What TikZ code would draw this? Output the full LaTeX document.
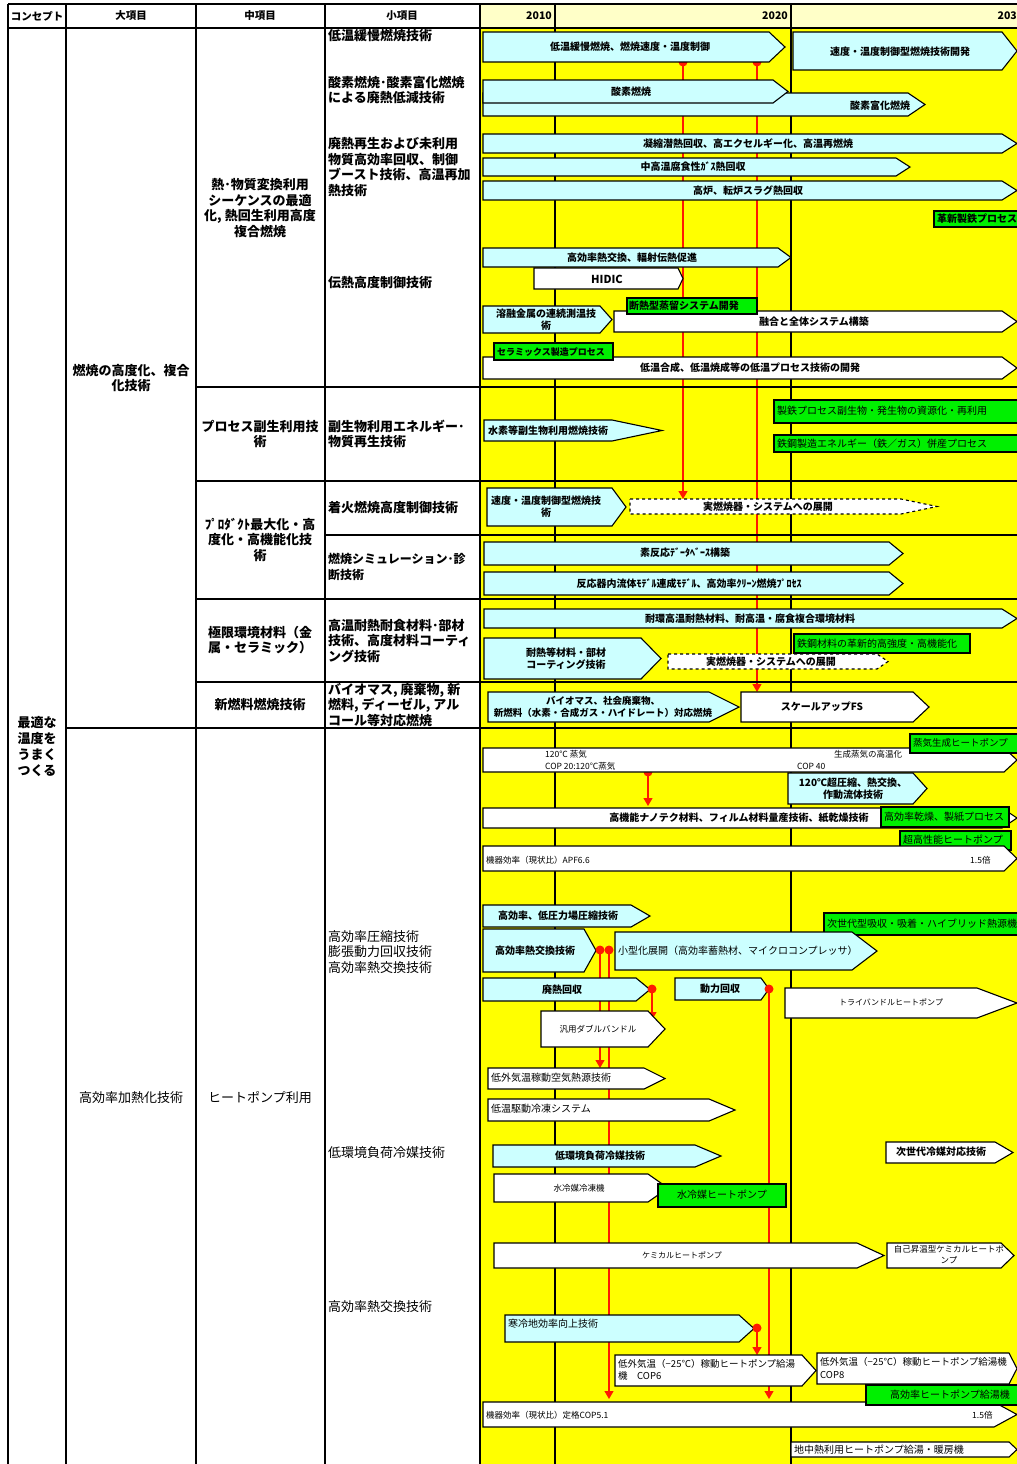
\documentclass[tikz,border=0pt]{standalone}
\usepackage{fontspec}
\setmainfont{Noto Sans CJK JP}
\usetikzlibrary{arrows.meta}

\definecolor{chartyel}{HTML}{FFFF00}
\definecolor{headyel}{HTML}{FFFFC8}
\definecolor{barcyan}{HTML}{CCFFFF}
\definecolor{bargreen}{HTML}{00F000}
\definecolor{linkred}{HTML}{FF1A00}

\tikzset{
  frame/.style={black, line width=1.3pt},
  yearline/.style={black, line width=1.1pt},
  cyanbar/.style={draw=black, line width=1.1pt, fill=barcyan},
  whitebar/.style={draw=black, line width=1.1pt, fill=white},
  dashbar/.style={whitebar, dashed},
  greenbox/.style={draw=black, line width=1.1pt, fill=bargreen},
  redlink/.style={draw=linkred, line width=1.2pt, -{Triangle[width=9pt,length=8pt]}},
  hdtxt/.style={font=\fontsize{10.5}{12}\selectfont\bfseries, inner sep=0pt},
  coltxt/.style={font=\fontsize{13}{15.5}\selectfont\bfseries, inner sep=0pt, align=center},
  colthin/.style={font=\fontsize{13}{15.5}\selectfont, inner sep=0pt, align=center},
  itemtxt/.style={font=\fontsize{13}{15.4}\selectfont\bfseries, inner sep=0pt, align=left, anchor=west},
  itemthin/.style={font=\fontsize{13}{15.2}\selectfont, inner sep=0pt, align=left, anchor=west},
  bartxt/.style={font=\fontsize{10}{12}\selectfont\bfseries, inner sep=0pt, align=center},
  barthin/.style={font=\fontsize{10}{12}\selectfont, inner sep=0pt, align=center},
  smalltxt/.style={font=\fontsize{8.5}{10.5}\selectfont, inner sep=0pt, align=center},
  greentxt/.style={font=\fontsize{10}{12}\selectfont, inner sep=0pt, anchor=west},
}

% arrow bar: style, x left, y top, x body end, x tip, y bottom
\newcommand{\pent}[6]{%
  \draw[#1] (#2,#3) -- (#4,#3) -- (#5,{(#3+#6)/2}) -- (#4,#6) -- (#2,#6) -- cycle;}

\begin{document}
\begin{tikzpicture}[x=1pt, y=-1pt]
  \useasboundingbox (0,0) rectangle (1017,1464);
  \clip (0,0) rectangle (1017,1464);
  \fill[white] (0,0) rectangle (1017,1464);

  % Chart background and year lines
  \fill[chartyel] (480,28) rectangle (1017,1464);
  \fill[headyel] (480,4) rectangle (1017,28);
  \foreach \yx in {555,791} \draw[yearline] (\yx,4) -- (\yx,1464);

  % Red links (behind the bars)
  \coordinate (dA) at (683,62);  \coordinate (eA) at (683,499);
  \coordinate (dB) at (757,62);  \coordinate (eB) at (757,692);
  \coordinate (dC) at (648,772); \coordinate (eC) at (648,806);
  \coordinate (dD) at (600,950); \coordinate (eD) at (600,1068);
  \coordinate (dE) at (609,950); \coordinate (eE) at (609,1399);
  \coordinate (dF) at (652,989); \coordinate (eF) at (652,1020);
  \coordinate (dG) at (769,989); \coordinate (eG) at (769,1399);
  \coordinate (dH) at (757,1328); \coordinate (eH) at (757,1355);
  \foreach \s in {A,B,C,D,E,F,G,H} \draw[redlink] (d\s) -- (e\s);
  \foreach \s in {A,B,C} \fill[linkred] (d\s) circle (4.5pt);

  % Bars: combustion
  \pent{cyanbar}{483}{32}{769}{785}{62}
  \pent{cyanbar}{793}{32}{1002}{1017}{70}
  \pent{cyanbar}{483}{93}{908}{925}{116}
  \pent{cyanbar}{483}{80}{773}{788}{103}
  \pent{cyanbar}{483}{134}{1002}{1017}{153}
  \pent{cyanbar}{483}{158}{896}{910}{176}
  \pent{cyanbar}{483}{181}{1002}{1017}{200}
  \draw[greenbox] (934,211) rectangle (1030,227);
  \pent{cyanbar}{483}{248}{778}{791}{267}
  \pent{whitebar}{534}{268}{678}{683}{289}
  \pent{cyanbar}{483}{306}{600}{612}{333}
  \pent{whitebar}{614}{311}{1002}{1017}{332}
  \draw[greenbox] (627,298) rectangle (757,314);
  \pent{whitebar}{483}{357}{1002}{1017}{379}
  \draw[greenbox] (494,343) rectangle (613,360);
  \draw[greenbox] (774,400) rectangle (1030,423);
  \draw[greenbox] (774,435) rectangle (1030,452);
  \pent{cyanbar}{484}{420}{612}{662}{441}
  \pent{cyanbar}{487}{488}{612}{626}{526}
  \pent{dashbar}{630}{499}{901}{937}{514}
  \pent{cyanbar}{484}{542}{889}{903}{565}
  \pent{cyanbar}{484}{572}{889}{903}{595}
  \pent{cyanbar}{484}{609}{1002}{1017}{628}
  \draw[greenbox] (794,634) rectangle (970,653);
  \pent{cyanbar}{484}{638}{641}{661}{679}
  \pent{dashbar}{668}{654}{877}{888}{669}
  \pent{cyanbar}{488}{692}{709}{739}{722}
  \pent{whitebar}{741}{692}{913}{929}{722}

  % Bars: heat pump
  \pent{whitebar}{483}{748}{1004}{1017}{772}
  \draw[greenbox] (910,734) rectangle (1030,753);
  \pent{cyanbar}{788}{773}{913}{927}{804}
  \pent{whitebar}{483}{808}{1002}{1017}{828}
  \draw[greenbox] (881,807) rectangle (1009,827);
  \draw[greenbox] (900,831) rectangle (1011,850);
  \pent{whitebar}{483}{846}{1004}{1017}{871}
  \pent{cyanbar}{483}{905}{631}{650}{927}
  \draw[greenbox] (824,913) rectangle (1030,935);
  \pent{cyanbar}{483}{929}{584}{596}{972}
  \pent{cyanbar}{615}{932}{852}{877}{970}
  \pent{cyanbar}{483}{978}{636}{650}{1001}
  \pent{cyanbar}{675}{978}{761}{769}{1000}
  \pent{whitebar}{785}{988}{977}{1017}{1018}
  \pent{whitebar}{541}{1011}{648}{665}{1047}
  \pent{whitebar}{488}{1068}{644}{665}{1089}
  \pent{whitebar}{488}{1099}{709}{735}{1121}
  \pent{cyanbar}{493}{1145}{695}{721}{1167}
  \pent{whitebar}{886}{1142}{995}{1013}{1163}
  \pent{whitebar}{494}{1174}{648}{668}{1202}
  \draw[greenbox] (658,1184) rectangle (786,1207);
  \pent{whitebar}{494}{1243}{857}{884}{1268}
  \pent{whitebar}{887}{1243}{1001}{1014}{1268}
  \pent{cyanbar}{505}{1315}{739}{754}{1342}
  \pent{whitebar}{615}{1355}{802}{816}{1386}
  \pent{whitebar}{817}{1353}{1009}{1017}{1384}
  \pent{whitebar}{483}{1402}{994}{1017}{1427}
  \draw[greenbox] (866,1385) rectangle (1030,1405);
  \pent{whitebar}{791}{1442}{1009}{1017}{1457}

  % Red dots on top
  \foreach \s in {D,E,F,G,H} \fill[linkred] (d\s) circle (4.5pt);

  % Table lines
  \draw[frame] (8,4) -- (1017,4);
  \draw[frame] (8,28) -- (1017,28);
  \foreach \xc in {8,66,196,325,480} \draw[frame] (\xc,4) -- (\xc,1464);
  \foreach \yr in {387,481,599,682} \draw[frame] (196,\yr) -- (1017,\yr);
  \draw[frame] (325,535) -- (1017,535);
  \draw[black, line width=2pt] (66,728) -- (1017,728);

  % Header
  \node[hdtxt] (hC) at (37,16) {コンセプト};
  \node[hdtxt] (hL) at (131,16) {大項目};
  \node[hdtxt] (hM) at (260,16) {中項目};
  \node[hdtxt] (hS) at (402,16) {小項目};
  \node[hdtxt, anchor=east] (y10) at (552,16) {2010};
  \node[hdtxt, anchor=east] (y20) at (788,16) {2020};
  \node[hdtxt, anchor=east] (y30) at (1017,16) {203};

  % Concept / large / middle items
  \node[coltxt, font=\fontsize{13}{16}\selectfont\bfseries] (cpt) at (37,747) {最適な\\温度を\\うまく\\つくる};
  \node[coltxt] (L1) at (131,378) {燃焼の高度化、複合\\化技術};
  \node[colthin] (L2) at (131,1098) {高効率加熱化技術};
  \node[coltxt] (M1) at (260,208) {熱･物質変換利用\\シーケンスの最適\\化, 熱回生利用高度\\複合燃焼};
  \node[coltxt] (M2) at (260,434) {プロセス副生利用技\\術};
  \node[coltxt] (M3) at (260,540) {ﾌﾟﾛﾀﾞｸﾄ最大化・高\\度化・高機能化技\\術};
  \node[coltxt] (M4) at (260,640) {極限環境材料（金\\属・セラミック）};
  \node[coltxt] (M5) at (260,705) {新燃料燃焼技術};
  \node[colthin] (M6) at (260,1098) {ヒートポンプ利用};

  % Small items
  \node[itemtxt] (S1) at (328,36) {低温緩慢燃焼技術};
  \node[itemtxt] (S2) at (328,90) {酸素燃焼･酸素富化燃焼\\による廃熱低減技術};
  \node[itemtxt] (S3) at (328,167) {廃熱再生および未利用\\物質高効率回収、制御\\ブースト技術、高温再加\\熱技術};
  \node[itemtxt] (S4) at (328,283) {伝熱高度制御技術};
  \node[itemtxt] (S5) at (328,434) {副生物利用エネルギー･\\物質再生技術};
  \node[itemtxt] (S6) at (328,508) {着火燃焼高度制御技術};
  \node[itemtxt, font=\fontsize{12}{15.4}\selectfont\bfseries] (S7) at (328,567) {燃焼シミュレーション･診\\断技術};
  \node[itemtxt] (S8) at (328,641) {高温耐熱耐食材料･部材\\技術、高度材料コーティ\\ング技術};
  \node[itemtxt] (S9) at (328,705) {バイオマス, 廃棄物, 新\\燃料, ディーゼル, アル\\コール等対応燃焼};
  \node[itemthin] (S10) at (328,952) {高効率圧縮技術\\膨張動力回収技術\\高効率熱交換技術};
  \node[itemthin] (S11) at (328,1153) {低環境負荷冷媒技術};
  \node[itemthin] (S12) at (328,1307) {高効率熱交換技術};

  % Bar labels: combustion
  \node[bartxt] (b1) at (630,47) {低温緩慢燃焼、燃焼速度・温度制御};
  \node[bartxt] (b2) at (900,52) {速度・温度制御型燃焼技術開発};
  \node[bartxt] (b3) at (631,92) {酸素燃焼};
  \node[bartxt] (b4) at (880,106) {酸素富化燃焼};
  \node[bartxt] (b5) at (748,144) {凝縮潜熱回収、高エクセルギー化、高温再燃焼};
  \node[bartxt] (b6) at (693,167) {中高温腐食性ｶﾞｽ熱回収};
  \node[bartxt] (b7) at (748,191) {高炉、転炉スラグ熱回収};
  \node[greentxt, font=\fontsize{10}{12}\selectfont\bfseries] (g1) at (937,219) {革新製鉄プロセス};
  \node[bartxt] (b8) at (632,258) {高効率熱交換、輻射伝熱促進};
  \node[bartxt, font=\fontsize{11}{12}\selectfont\bfseries] (b9) at (607,279) {HIDIC};
  \node[greentxt, font=\fontsize{10}{12}\selectfont\bfseries] (g2) at (629,306) {断熱型蒸留システム開発};
  \node[bartxt] (b10) at (546,320) {溶融金属の連続測温技\\術};
  \node[bartxt] (b11) at (814,322) {融合と全体システム構築};
  \node[greentxt, font=\fontsize{9}{11}\selectfont\bfseries] (g3) at (497,352) {セラミックス製造プロセス};
  \node[bartxt] (b12) at (750,368) {低温合成、低温焼成等の低温プロセス技術の開発};
  \node[greentxt] (g4) at (777,411) {製鉄プロセス副生物・発生物の資源化・再利用};
  \node[greentxt] (g5) at (777,444) {鉄鋼製造エネルギー（鉄／ガス）併産プロセス};
  \node[bartxt] (b13) at (548,431) {水素等副生物利用燃焼技術};
  \node[bartxt] (b14) at (546,507) {速度・温度制御型燃焼技\\術};
  \node[bartxt] (b15) at (768,507) {実燃焼器・システムへの展開};
  \node[bartxt] (b16) at (685,553) {素反応ﾃﾞｰﾀﾍﾞｰｽ構築};
  \node[bartxt] (b17) at (689,584) {反応器内流体ﾓﾃﾞﾙ連成ﾓﾃﾞﾙ、高効率ｸﾘｰﾝ燃焼ﾌﾟﾛｾｽ};
  \node[bartxt] (b18) at (750,619) {耐環高温耐熱材料、耐高温・腐食複合環境材料};
  \node[greentxt] (g6) at (797,644) {鉄鋼材料の革新的高強度・高機能化};
  \node[bartxt] (b19) at (566,659) {耐熱等材料・部材\\コーティング技術};
  \node[bartxt] (b20) at (771,662) {実燃焼器・システムへの展開};
  \node[bartxt, font=\fontsize{9.5}{12.5}\selectfont\bfseries] (b21) at (603,707) {バイオマス、社会廃棄物、\\新燃料（水素・合成ガス・ハイドレート）対応燃焼};
  \node[bartxt] (b22) at (822,707) {スケールアップFS};

  % Bar labels: heat pump
  \node[smalltxt, anchor=west] (t1) at (545,754) {120℃ 蒸気};
  \node[smalltxt, anchor=west] (t2) at (545,766) {COP 20:120℃蒸気};
  \node[smalltxt, anchor=west] (t3) at (834,754) {生成蒸気の高温化};
  \node[smalltxt, anchor=west] (t4) at (797,766) {COP 40};
  \node[greentxt, font=\fontsize{9.5}{12}\selectfont] (g7) at (913,743) {蒸気生成ヒートポンプ};
  \node[bartxt] (b23) at (853,789) {120℃超圧縮、熱交換、\\作動流体技術};
  \node[bartxt] (b24) at (739,818) {高機能ナノテク材料、フィルム材料量産技術、紙乾燥技術};
  \node[greentxt] (g8) at (884,817) {高効率乾燥、製紙プロセス};
  \node[greentxt] (g9) at (903,840) {超高性能ヒートポンプ};
  \node[smalltxt, anchor=west] (t5) at (486,860) {機器効率（現状比）APF6.6};
  \node[smalltxt, anchor=west] (t6) at (970,860) {1.5倍};
  \node[bartxt] (b25) at (558,916) {高効率、低圧力場圧縮技術};
  \node[greentxt] (g10) at (827,924) {次世代型吸収・吸着・ハイブリッド熱源機};
  \node[bartxt] (b26) at (535,951) {高効率熱交換技術};
  \node[barthin, anchor=west] (b27) at (618,951) {小型化展開（高効率蓄熱材、マイクロコンプレッサ）};
  \node[bartxt] (b28) at (562,990) {廃熱回収};
  \node[bartxt] (b29) at (720,989) {動力回収};
  \node[smalltxt, font=\fontsize{8}{10}\selectfont] (b30) at (891,1002) {トライバンドルヒートポンプ};
  \node[smalltxt] (b31) at (598,1029) {汎用ダブルバンドル};
  \node[barthin, anchor=west] (b32) at (491,1078) {低外気温稼動空気熱源技術};
  \node[barthin, anchor=west] (b33) at (491,1109) {低温駆動冷凍システム};
  \node[bartxt] (b34) at (600,1156) {低環境負荷冷媒技術};
  \node[bartxt] (b35) at (941,1152) {次世代冷媒対応技術};
  \node[smalltxt] (b36) at (579,1188) {水冷媒冷凍機};
  \node[barthin] (g11) at (722,1195) {水冷媒ヒートポンプ};
  \node[smalltxt, font=\fontsize{8}{10}\selectfont] (b37) at (682,1255) {ケミカルヒートポンプ};
  \node[smalltxt, font=\fontsize{8.5}{11}\selectfont] (b38) at (949,1255) {自己昇温型ケミカルヒートポ\\ンプ};
  \node[barthin, anchor=west] (b39) at (508,1324) {寒冷地効率向上技術};
  \node[barthin, anchor=west, align=left, font=\fontsize{9.5}{12.5}\selectfont] (b40) at (618,1370) {低外気温（−25℃）稼動ヒートポンプ給湯\\機　COP6};
  \node[barthin, anchor=west, align=left, font=\fontsize{9.5}{12.5}\selectfont] (b41) at (820,1368) {低外気温（−25℃）稼動ヒートポンプ給湯機\\COP8};
  \node[greentxt] (g12) at (890,1395) {高効率ヒートポンプ給湯機};
  \node[smalltxt, anchor=west] (t7) at (486,1415) {機器効率（現状比）定格COP5.1};
  \node[smalltxt, anchor=west] (t8) at (972,1415) {1.5倍};
  \node[barthin, anchor=west] (b42) at (794,1450) {地中熱利用ヒートポンプ給湯・暖房機};
\end{tikzpicture}
\end{document}
